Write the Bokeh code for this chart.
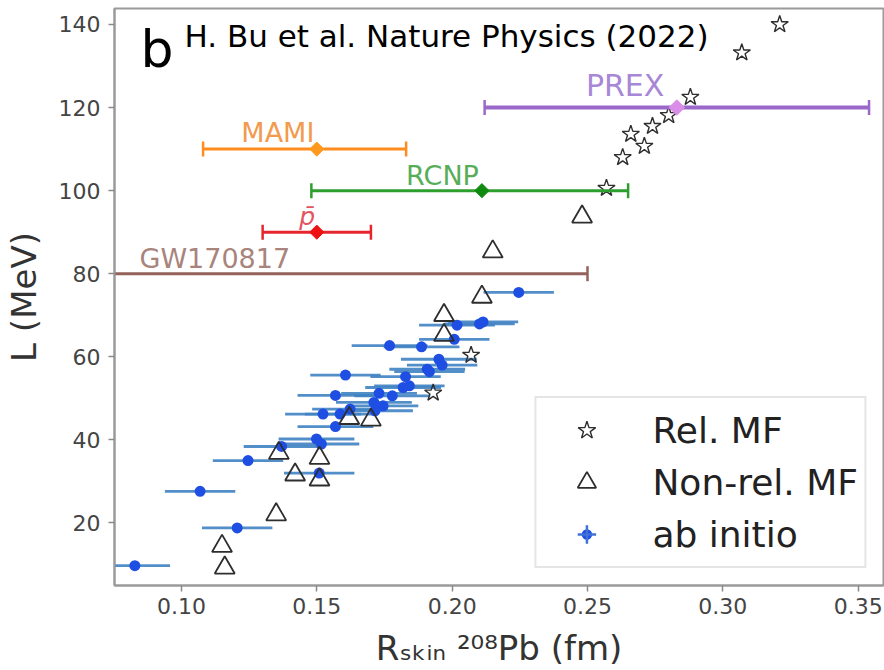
import math
from bokeh.plotting import figure
from bokeh.models import (ColumnDataSource, Range1d, FixedTicker, NumeralTickFormatter,
                          Label, Legend, LegendItem)
from bokeh.embed import file_html
from bokeh.resources import INLINE

# ---------------- data ----------------
rel_mf_x = [0.321, 0.307, 0.288, 0.280, 0.274, 0.266, 0.271, 0.263, 0.257, 0.207, 0.193]
rel_mf_L = [140.0, 133.2, 122.5, 118.1, 115.5, 113.6, 110.7, 108.0, 100.6, 60.4, 51.3]

nonrel_x = [0.248, 0.215, 0.211, 0.197, 0.197, 0.162, 0.170, 0.136, 0.151, 0.142, 0.151, 0.135, 0.115, 0.116]
nonrel_L = [93.7, 85.3, 74.4, 70.0, 65.2, 45.2, 44.8, 36.8, 35.6, 31.6, 30.4, 22.0, 14.4, 9.2]

abi_x = [0.0828, 0.1069, 0.1206, 0.1246, 0.1370, 0.1499, 0.1517, 0.1509, 0.1569, 0.1586, 0.1523,
         0.1623, 0.1569, 0.1606, 0.1715, 0.1711, 0.1745, 0.1730, 0.1779, 0.1769, 0.1828, 0.1819,
         0.1842, 0.1887, 0.1908, 0.1916, 0.1951, 0.1963, 0.2008, 0.2018, 0.2101, 0.2114, 0.2246]
abi_L = [9.7, 27.6, 18.8, 35.0, 38.4, 40.2, 39.0, 32.0, 43.2, 46.2, 46.2,
         47.4, 50.7, 55.6, 47.0, 49.0, 48.2, 51.2, 50.6, 62.7, 55.2, 52.6,
         53.0, 62.4, 57.0, 56.4, 59.4, 58.0, 64.2, 67.6, 67.9, 68.4, 75.5]
abi_err = [0.013, 0.013, 0.013, 0.013, 0.014, 0.014, 0.014, 0.013, 0.014, 0.013, 0.014,
           0.014, 0.014, 0.013, 0.014, 0.014, 0.013, 0.014, 0.014, 0.014, 0.013, 0.014,
           0.013, 0.014, 0.014, 0.013, 0.014, 0.013, 0.013, 0.014, 0.013, 0.013, 0.013]

exp_names = ["MAMI", "RCNP", "p\u0304", "GW170817", "PREX"]
exp_L = [110.0, 100.0, 90.0, 80.0, 120.0]
exp_lo = [0.108, 0.148, 0.130, 0.000, 0.212]
exp_hi = [0.183, 0.265, 0.170, 0.250, 0.354]
exp_center = [0.150, 0.211, 0.150, None, 0.283]
exp_line_colors = ["#ff8c1e", "#2e9e2e", "#e6262e", "#94625a", "#9a68c8"]
exp_marker_colors = ["#ff9a1c", "#0e8a0e", "#ee1111", None, "#da8ee8"]
exp_text_colors = ["#f29a4e", "#58ae58", "#e25462", "#a8847c", "#a887d6"]

x_ticks = [0.10, 0.15, 0.20, 0.25, 0.30, 0.35]
y_ticks = [20, 40, 60, 80, 100, 120, 140]

x_label = "R\u209b\u2096\u1d62\u2099 \u00b2\u2070\u2078Pb (fm)"
y_label = "L (MeV)"

# ---------------- frame geometry ----------------
W, H = 884, 670
FL, FR, FT, FB = 113, 883, 8, 586
X0, X1 = 0.07528, 0.35934
Y0, Y1 = 4.93, 143.85


def px2x(px):
    return X0 + (px - FL) / (FR - FL) * (X1 - X0)


def py2y(py):
    return Y1 - (py - FT) / (FB - FT) * (Y1 - Y0)


FONT = "DejaVu Sans"

p = figure(width=W, height=H, x_range=Range1d(X0, X1), y_range=Range1d(Y0, Y1),
           output_backend="svg", toolbar_location=None,
           min_border_left=FL, min_border_right=W - FR, min_border_top=FT,
           min_border_bottom=H - FB)
p.xgrid.visible = False
p.ygrid.visible = False
p.background_fill_color = "white"
p.border_fill_color = "white"
p.outline_line_color = "#9a9a9a"
p.outline_line_width = 2

for ax in (p.xaxis[0], p.yaxis[0]):
    ax.axis_line_color = "#9a9a9a"
    ax.axis_line_width = 2
    ax.major_tick_line_color = "#8a8a8a"
    ax.major_tick_line_width = 1.5
    ax.major_tick_out = 6
    ax.major_tick_in = 0
    ax.minor_tick_out = 0
    ax.minor_tick_in = 0
    ax.major_label_text_font = FONT
    ax.major_label_text_font_size = "22px"
    ax.major_label_text_color = "#444444"
    ax.axis_label_text_font = FONT
    ax.axis_label_text_font_size = "34px"
    ax.axis_label_text_font_style = "normal"
    ax.axis_label_text_color = "#333333"

p.xaxis.axis_label = x_label
p.yaxis.axis_label = y_label
p.xaxis.axis_label_standoff = 11
p.yaxis.axis_label_standoff = 12
p.xaxis.ticker = FixedTicker(ticks=x_ticks)
p.yaxis.ticker = FixedTicker(ticks=y_ticks)
p.xaxis.formatter = NumeralTickFormatter(format="0.00")
p.xaxis.major_label_standoff = 6
p.yaxis.major_label_standoff = 8

# ---------------- ab initio ----------------
abi_src = ColumnDataSource(dict(
    x=abi_x, L=abi_L,
    lo=[a - e for a, e in zip(abi_x, abi_err)],
    hi=[a + e for a, e in zip(abi_x, abi_err)],
))
p.segment(x0="lo", y0="L", x1="hi", y1="L", source=abi_src,
          line_color="#3f82c2", line_width=2.8, line_alpha=0.9)
r_abi = p.scatter(x="x", y="L", source=abi_src, marker="dot", size=44,
                  line_color="#1f4fe2", fill_color="#1f4fe2")
# legend proxies (no position): a blue disc with a cross through it
r_abi_disc = p.scatter(x=[float("nan")], y=[float("nan")], marker="circle", size=30,
                       fill_color="#1f4fe2", line_color="white", line_width=8)
r_abi_cross = p.scatter(x=[float("nan")], y=[float("nan")], marker="cross", size=30,
                        line_color="#3f72d8", line_width=2.5)

# ---------------- mean field ----------------
r_tri = p.scatter(x=nonrel_x, y=nonrel_L, marker="triangle", size=20,
                  fill_color=None, line_color="#2e2e2e", line_width=1.8)
r_star = p.scatter(x=rel_mf_x, y=rel_mf_L, marker="star", size=18,
                   fill_color=None, line_color="#2e2e2e", line_width=1.4)

# ---------------- experimental constraints ----------------
for i, name in enumerate(exp_names):
    lw = 4 if name == "PREX" else 3
    p.segment(x0=[exp_lo[i]], y0=[exp_L[i]], x1=[exp_hi[i]], y1=[exp_L[i]],
              line_color=exp_line_colors[i], line_width=lw)
    p.scatter(x=[exp_lo[i], exp_hi[i]], y=[exp_L[i], exp_L[i]], marker="dash",
              angle=math.pi / 2, size=15, line_color=exp_line_colors[i], line_width=2.5)
    if exp_center[i] is not None:
        p.scatter(x=[exp_center[i]], y=[exp_L[i]], marker="square", angle=math.pi / 4,
                  size=11 if name == "PREX" else 10,
                  fill_color=exp_marker_colors[i], line_color=exp_marker_colors[i])

# experiment labels (left x px, cap-centre y px, font px)
exp_label_pos = {"MAMI": (240, 132.5, 27), "RCNP": (405, 175, 27), "p\u0304": (298, 216, 25),
                 "GW170817": (138, 258.5, 27), "PREX": (585, 85, 30)}
for i, name in enumerate(exp_names):
    lx, ly, fs = exp_label_pos[name]
    p.add_layout(Label(x=px2x(lx), y=py2y(ly), text=name, text_font=FONT,
                       text_font_style="italic" if name.startswith("p") else "normal",
                       text_font_size=f"{fs}px", text_color=exp_text_colors[i],
                       text_align="left", text_baseline="middle"))

# ---------------- panel letter and citation ----------------
p.add_layout(Label(x=px2x(139), y=py2y(49), text="b", text_font=FONT,
                   text_font_size="52px", text_color="black",
                   text_align="left", text_baseline="middle"))
p.add_layout(Label(x=px2x(183), y=py2y(36), text="H. Bu et al. Nature Physics (2022)",
                   text_font=FONT, text_font_size="31px", text_color="black",
                   text_align="left", text_baseline="middle"))

# ---------------- legend ----------------
legend = Legend(items=[
    LegendItem(label="Rel. MF", renderers=[r_star]),
    LegendItem(label="Non-rel. MF", renderers=[r_tri]),
    LegendItem(label="ab initio", renderers=[r_abi_disc, r_abi_cross]),
], location="bottom_right")
legend.label_text_font = FONT
legend.label_text_font_size = "36px"
legend.label_text_color = "#222222"
legend.glyph_width = 88
legend.glyph_height = 46
legend.label_height = 52
legend.label_standoff = 22
legend.padding = 6
legend.spacing = 0
legend.margin = 17
legend.border_line_color = "#cccccc"
legend.border_line_width = 2
legend.background_fill_alpha = 0.9
p.add_layout(legend)

open("out.html", "w").write(file_html(p, INLINE))
